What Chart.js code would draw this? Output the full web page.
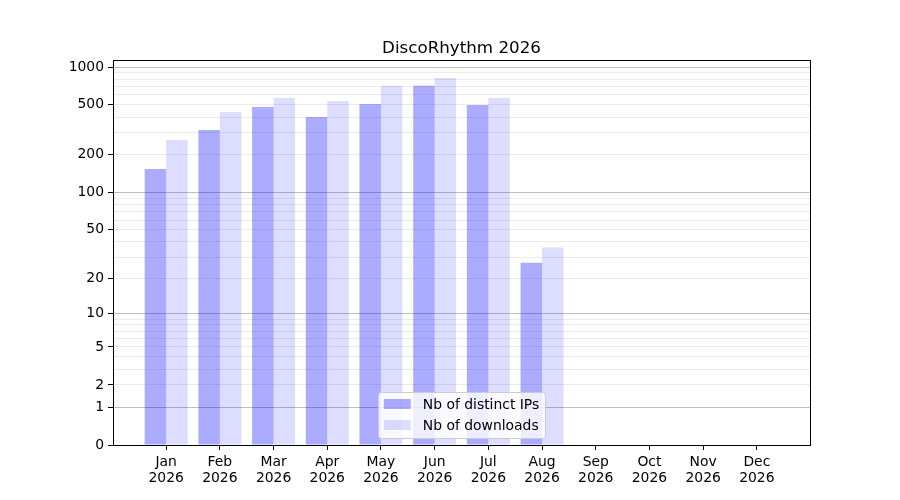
<!DOCTYPE html>
<html>
<head>
<meta charset="utf-8">
<title>DiscoRhythm 2026</title>
<script src="https://cdn.jsdelivr.net/npm/chart.js@4/dist/chart.umd.min.js"></script>
<style>
  html, body { margin: 0; padding: 0; background: #ffffff; }
  #wrap { width: 900px; height: 500px; }
</style>
</head>
<body>
<div id="wrap"><canvas id="chart" width="900" height="500"></canvas></div>
<script>
const chartTitle = 'DiscoRhythm 2026';
const months = ['Jan', 'Feb', 'Mar', 'Apr', 'May', 'Jun', 'Jul', 'Aug', 'Sep', 'Oct', 'Nov', 'Dec'];
const year = '2026';
const distinctIPs = [154, 315, 481, 400, 508, 708, 499, 27, 0, 0, 0, 0];
const downloads = [263, 439, 567, 537, 710, 817, 567, 36, 0, 0, 0, 0];
const labeledTicks = [0, 1, 2, 5, 10, 20, 50, 100, 200, 500, 1000];
const majorTicks = [1, 10, 100, 1000];
const minorTicks = [2, 3, 4, 5, 6, 7, 8, 9, 20, 30, 40, 50, 60, 70, 80, 90, 200, 300, 400, 500, 600, 700, 800, 900];

// the y axis is log10(n + 1), so 0 sits on the bottom edge
const toY = (n) => Math.log10(n + 1);
const fromY = (v) => Math.round(Math.pow(10, v) - 1);

const FONT = 'DejaVu Sans';

// title centred over the axes, not the whole canvas
const axesTitle = {
  id: 'axesTitle',
  afterDraw(chart) {
    const { ctx, chartArea } = chart;
    ctx.save();
    ctx.font = '16.7px "' + FONT + '"';
    ctx.fillStyle = '#000000';
    ctx.textAlign = 'center';
    ctx.textBaseline = 'alphabetic';
    ctx.fillText(chartTitle, (chartArea.left + chartArea.right) / 2, chartArea.top - 7);
    ctx.restore();
  },
};

// black frame round the plot area, like matplotlib spines
const framePlugin = {
  id: 'frame',
  afterDatasetsDraw(chart) {
    const { ctx, chartArea } = chart;
    ctx.save();
    ctx.strokeStyle = '#000000';
    ctx.lineWidth = 1;
    ctx.strokeRect(Math.round(chartArea.left) + 0.5, Math.round(chartArea.top) + 0.5,
      Math.round(chartArea.width), Math.round(chartArea.height));
    ctx.restore();
  },
};

// legend placed at lower center inside the axes
const innerLegend = {
  id: 'innerLegend',
  afterDraw(chart) {
    const { ctx, chartArea } = chart;
    const sets = chart.data.datasets;
    ctx.save();
    ctx.font = '13.9px "' + FONT + '"';
    let textW = 0;
    sets.forEach((ds) => { textW = Math.max(textW, ctx.measureText(ds.label).width); });
    const w = 6 + 27 + 12 + textW + 6;
    const h = 46;
    const x = (chartArea.left + chartArea.right) / 2 - w / 2;
    const y = chartArea.bottom - 7 - h;

    ctx.beginPath();
    ctx.roundRect(Math.round(x) + 0.5, Math.round(y) + 0.5, Math.round(w), h, 3);
    ctx.fillStyle = 'rgba(255, 255, 255, 0.8)';
    ctx.fill();
    ctx.strokeStyle = '#cccccc';
    ctx.lineWidth = 1;
    ctx.stroke();

    sets.forEach((ds, i) => {
      const rowY = y + 12 + i * 21;
      ctx.fillStyle = ds.backgroundColor;
      ctx.fillRect(x + 6, rowY - 5, 27, 10);
      ctx.fillStyle = '#000000';
      ctx.textBaseline = 'middle';
      ctx.textAlign = 'left';
      ctx.fillText(ds.label, x + 45, rowY + 1);
    });
    ctx.restore();
  },
};

const chart = new Chart(document.getElementById('chart'), {
  type: 'bar',
  data: {
    datasets: [
      {
        label: 'Nb of distinct IPs',
        data: distinctIPs.map((n, i) => ({ x: i, y: toY(n) })),
        backgroundColor: 'rgba(0, 0, 255, 0.33)',
        borderWidth: 0,
      },
      {
        label: 'Nb of downloads',
        data: downloads.map((n, i) => ({ x: i, y: toY(n) })),
        backgroundColor: 'rgba(0, 0, 255, 0.135)',
        borderWidth: 0,
      },
    ],
  },
  options: {
    responsive: false,
    animation: false,
    devicePixelRatio: 1,
    layout: { padding: { left: 0, right: 90, top: 60, bottom: 0 } },
    datasets: {
      bar: { categoryPercentage: 0.8, barPercentage: 1.0 },
    },
    plugins: {
      legend: { display: false },
      tooltip: { enabled: false },
      title: { display: false },
    },
    scales: {
      x: {
        type: 'linear',
        offset: false,
        min: -0.99,
        max: 11.99,
        border: { display: false },
        grid: {
          offset: false,
          drawOnChartArea: false,
          drawTicks: true,
          tickLength: 5,
          tickColor: '#000000',
        },
        afterBuildTicks: (scale) => {
          scale.ticks = months.map((m, i) => ({ value: i }));
        },
        afterFit: (scale) => { scale.height = 55; },
        ticks: {
          autoSkip: false,
          maxRotation: 0,
          padding: 5,
          color: '#000000',
          font: { family: FONT, size: 13.9, lineHeight: 1.1 },
          callback: (value) => [months[value], year],
        },
      },
      y: {
        type: 'linear',
        min: 0,
        max: 3.056,
        border: { display: false },
        grid: {
          drawTicks: true,
          tickLength: 5,
          lineWidth: 1,
          color: (ctx) => {
            const n = fromY(ctx.tick.value);
            if (n === 0) return 'rgba(0, 0, 0, 0)';
            return majorTicks.includes(n) ? 'rgba(0, 0, 0, 0.25)' : 'rgba(0, 0, 0, 0.08)';
          },
          tickColor: (ctx) => {
            const n = fromY(ctx.tick.value);
            return labeledTicks.includes(n) ? '#000000' : 'rgba(0, 0, 0, 0)';
          },
        },
        afterBuildTicks: (scale) => {
          const all = [0].concat(majorTicks, minorTicks).sort((a, b) => a - b);
          scale.ticks = all.map((n) => ({ value: toY(n) }));
        },
        afterFit: (scale) => { scale.width = 113; },
        ticks: {
          autoSkip: false,
          padding: 4,
          color: '#000000',
          font: { family: FONT, size: 13.9 },
          callback: (value) => {
            const n = fromY(value);
            return labeledTicks.includes(n) ? String(n) : '';
          },
        },
      },
    },
  },
  plugins: [axesTitle, framePlugin, innerLegend],
});
</script>
</body>
</html>
